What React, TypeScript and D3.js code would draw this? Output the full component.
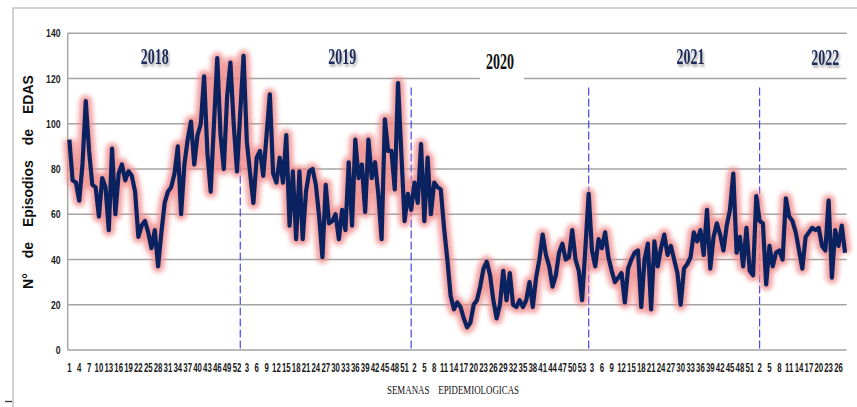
import React, { useEffect, useRef } from "react";
import * as d3 from "d3";

// weekly EDA episodes
const weeks2018 = [93, 75, 74, 66, 82, 110, 88, 73, 72, 59, 76, 72, 53, 89, 60, 78, 82, 75, 79, 77, 70, 50, 55, 57, 52, 45, 53, 37, 52, 65, 70, 72, 78, 90, 60, 82, 93, 101, 82, 95, 100, 121, 87, 70, 100, 129, 95, 80, 112, 127, 100, 79];
const weeks2019 = [105, 130, 92, 78, 65, 85, 88, 77, 95, 113, 78, 74, 85, 74, 95, 55, 79, 49, 79, 49, 70, 79, 80, 73, 59, 41, 73, 56, 57, 60, 49, 62, 53, 83, 55, 93, 76, 82, 61, 93, 76, 83, 69, 49, 102, 88, 88, 71, 118, 87, 57, 69];
const weeks2020 = [62, 74, 65, 91, 57, 85, 60, 74, 72, 71, 54, 40, 24, 18, 21, 19, 14, 10, 12, 20, 22, 28, 36, 39, 33, 22, 14, 20, 35, 22, 34, 20, 19, 22, 19, 22, 30, 19, 32, 40, 51, 42, 37, 28, 33, 43, 47, 40, 41, 53, 40, 35, 22];
const weeks2021 = [45, 69, 44, 37, 49, 45, 52, 41, 35, 30, 32, 34, 21, 36, 40, 43, 44, 19, 40, 47, 18, 48, 37, 45, 51, 42, 46, 40, 34, 20, 36, 38, 41, 52, 48, 53, 42, 62, 36, 50, 56, 51, 44, 55, 62, 78, 43, 50, 37, 54, 35, 33];
const weeks2022 = [68, 57, 56, 29, 46, 37, 43, 44, 40, 67, 59, 57, 52, 44, 36, 50, 52, 54, 53, 54, 46, 44, 66, 32, 53, 46, 55, 43];

const years = ["2018", "2019", "2020", "2021", "2022"];
// week under each year label, and the week the dashed separator sits on
const yearLabelWeek = [27, 32, 28, 33, 22];
const separatorWeek = [0, 1, 1, 2, 2];
const yTicks = [0, 20, 40, 60, 80, 100, 120, 140];

const App = () => {
  const svgRef = useRef<SVGSVGElement>(null);

  useEffect(() => {
    const svg = d3.select(svgRef.current);
    svg.selectAll("*").remove();

    const width = 857;
    const height = 407;
    const margin = { top: 33.3, right: 10.3, bottom: 57, left: 67.7 };

    const series = [weeks2018, weeks2019, weeks2020, weeks2021, weeks2022];
    const starts: number[] = [];
    let acc = 0;
    series.forEach((s) => {
      starts.push(acc);
      acc += s.length;
    });
    const points = series.flatMap((s, k) =>
      s.map((v, j) => ({ year: years[k], week: j + 1, value: v }))
    );

    const x = d3
      .scaleBand<number>()
      .domain(d3.range(points.length))
      .range([margin.left, width - margin.right]);
    const cx = (i: number) => (x(i) as number) + x.bandwidth() / 2;

    const y = d3
      .scaleLinear()
      .domain([0, 140])
      .range([height - margin.bottom, margin.top]);

    const defs = svg.append("defs");
    defs
      .append("filter")
      .attr("id", "glow")
      .attr("x", "-5%")
      .attr("y", "-20%")
      .attr("width", "110%")
      .attr("height", "140%")
      .append("feGaussianBlur")
      .attr("stdDeviation", 2.6);
    defs
      .append("filter")
      .attr("id", "shadow")
      .attr("x", "-20%")
      .attr("y", "-20%")
      .attr("width", "150%")
      .attr("height", "160%")
      .append("feDropShadow")
      .attr("dx", 1.2)
      .attr("dy", 2.5)
      .attr("stdDeviation", 1.2)
      .attr("flood-color", "#666")
      .attr("flood-opacity", 0.6);

    // outer frame
    svg
      .append("path")
      .attr("d", `M13,${height} L13,8 L${width},8`)
      .attr("fill", "none")
      .attr("stroke", "#c4c4c4")
      .attr("stroke-width", 1.5);
    svg
      .append("line")
      .attr("x1", 5)
      .attr("x2", 12)
      .attr("y1", 401.5)
      .attr("y2", 401.5)
      .attr("stroke", "#333")
      .attr("stroke-width", 1.3);

    // gridlines
    svg
      .append("g")
      .selectAll("line")
      .data(yTicks)
      .join("line")
      .attr("x1", margin.left)
      .attr("x2", width - margin.right)
      .attr("y1", (d) => y(d))
      .attr("y2", (d) => y(d))
      .attr("stroke", "#a3a3a3")
      .attr("stroke-width", 1.4);
    svg
      .append("line")
      .attr("x1", margin.left)
      .attr("x2", margin.left)
      .attr("y1", y(140))
      .attr("y2", y(0))
      .attr("stroke", "#a3a3a3")
      .attr("stroke-width", 1.4);

    // y tick labels
    svg
      .append("g")
      .selectAll("text")
      .data(yTicks)
      .join("text")
      .attr("transform", (d) => `translate(60.5, ${y(d) + 4}) scale(0.75, 1)`)
      .attr("text-anchor", "end")
      .style("font-family", "'Liberation Sans', Arial, sans-serif")
      .style("font-weight", "bold")
      .style("font-size", "11.5px")
      .attr("fill", "#1a1a1a")
      .text((d) => d);

    // x tick labels, every third week
    const tickIdx = d3.range(0, points.length, 3);
    svg
      .append("g")
      .selectAll("text")
      .data(tickIdx)
      .join("text")
      .attr("transform", (i) => `translate(${cx(i)}, 371.5) scale(0.58, 1)`)
      .attr("text-anchor", "middle")
      .style("font-family", "'Liberation Sans', Arial, sans-serif")
      .style("font-weight", "bold")
      .style("font-size", "13.5px")
      .attr("fill", "#1a1a1a")
      .text((i) => points[i].week);

    // year separators
    svg
      .append("g")
      .selectAll("line")
      .data(years.slice(1))
      .join("line")
      .attr("x1", (d, k) => cx(starts[k + 1] + separatorWeek[k + 1]) - x.bandwidth())
      .attr("x2", (d, k) => cx(starts[k + 1] + separatorWeek[k + 1]) - x.bandwidth())
      .attr("y1", y(116))
      .attr("y2", y(0))
      .attr("stroke", "#4747f5")
      .attr("stroke-width", 1.2)
      .attr("stroke-dasharray", "8,3");

    // data line with pink glow
    const line = d3
      .line<{ value: number }>()
      .x((d, i) => cx(i))
      .y((d) => y(d.value));

    svg
      .append("path")
      .datum(points)
      .attr("d", line)
      .attr("fill", "none")
      .attr("stroke", "#f08a8a")
      .attr("stroke-width", 12)
      .attr("stroke-linejoin", "round")
      .attr("opacity", 0.85)
      .attr("filter", "url(#glow)");
    svg
      .append("path")
      .datum(points)
      .attr("d", line)
      .attr("fill", "none")
      .attr("stroke", "#0b2260")
      .attr("stroke-width", 4.2)
      .attr("stroke-linejoin", "round");

    // 2020 label sits on a white box over the 120 gridline
    const i2020 = starts[2] + yearLabelWeek[2] - 1;
    svg
      .append("rect")
      .attr("x", cx(i2020) - 20)
      .attr("y", 44)
      .attr("width", 44)
      .attr("height", 38)
      .attr("fill", "#fff");

    // year labels
    svg
      .append("g")
      .selectAll("text")
      .data(years)
      .join("text")
      .attr("x", (d, k) => cx(starts[k] + yearLabelWeek[k] - 1) - 14)
      .attr("y", (d, k) => (k === 2 ? y(124) : k === 4 ? y(125.8) : y(126.6)))
      .attr("textLength", 28)
      .attr("lengthAdjust", "spacingAndGlyphs")
      .style("font-family", "'Liberation Serif', 'Times New Roman', serif")
      .style("font-weight", "bold")
      .style("font-size", "23px")
      .attr("fill", (d) => (d === "2020" ? "#111" : "#1b2a5c"))
      .attr("filter", (d) => (d === "2020" ? null : "url(#shadow)"))
      .text((d) => d);

    // axis titles
    svg
      .append("text")
      .attr("transform", `translate(33, 182) rotate(-90)`)
      .attr("text-anchor", "middle")
      .style("font-family", "'Liberation Sans', Arial, sans-serif")
      .style("font-weight", "bold")
      .style("font-size", "14px")
      .style("word-spacing", "11px")
      .attr("fill", "#111")
      .text("N° de Episodios de EDAS");

    svg
      .append("text")
      .attr("x", 387)
      .attr("y", 393.5)
      .attr("textLength", 132)
      .attr("lengthAdjust", "spacingAndGlyphs")
      .style("font-family", "'Liberation Serif', 'Times New Roman', serif")
      .style("font-size", "13.5px")
      .style("white-space", "pre")
      .attr("fill", "#111")
      .text("SEMANAS    EPIDEMIOLOGICAS");
  }, []);

  return (
    <svg
      ref={svgRef}
      width={857}
      height={407}
      style={{ position: "absolute", left: 0, top: 0, background: "#fff" }}
    ></svg>
  );
};

export default App;
